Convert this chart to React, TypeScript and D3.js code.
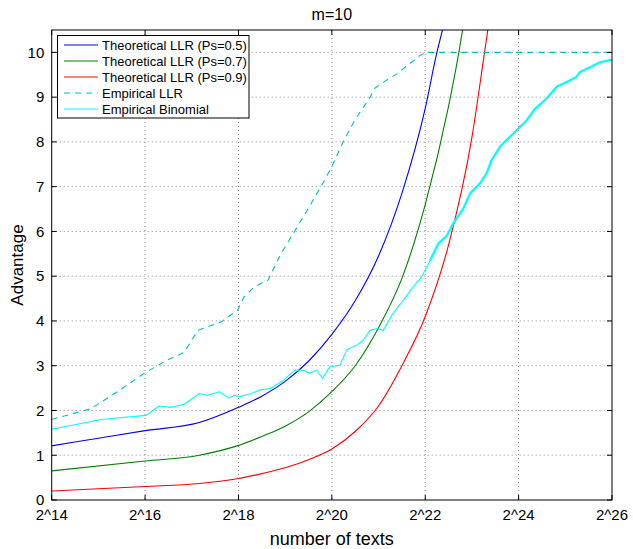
import React from "react";
import * as d3 from "d3";

// x values are log2(number of texts)
const xTicks = [14, 16, 18, 20, 22, 24, 26];
const yTicks = [0, 1, 2, 3, 4, 5, 6, 7, 8, 9, 10];

const llr05: [number, number][] = [
  [14, 1.21], [15, 1.38], [16, 1.55], [17.16, 1.73], [18, 2.07], [18.5, 2.32],
  [19, 2.65], [19.5, 3.1], [20, 3.7], [20.5, 4.45], [21, 5.45], [21.5, 6.85],
  [22, 8.75], [22.25, 10.0], [22.37, 10.5],
];
const llr07: [number, number][] = [
  [14, 0.65], [16, 0.87], [17.16, 1.0], [18, 1.22], [18.5, 1.42], [19, 1.65],
  [19.5, 1.97], [20, 2.42], [20.5, 3.0], [21, 3.85], [21.5, 4.95], [22, 6.6],
  [22.5, 8.8], [22.72, 10.0], [22.8, 10.5],
];
const llr09: [number, number][] = [
  [14, 0.2], [16, 0.3], [17.16, 0.37], [18, 0.48], [18.5, 0.59], [19, 0.72],
  [19.5, 0.9], [20, 1.14], [20.5, 1.53], [21, 2.1], [21.5, 3.0], [22, 4.1],
  [22.5, 5.7], [23, 8.1], [23.27, 10.0], [23.34, 10.5],
];
const empLLR: [number, number][] = [
  [14, 1.8], [14.84, 2.04], [15.41, 2.42], [15.98, 2.83], [16.48, 3.13], [16.84, 3.3],
  [17.13, 3.79], [17.34, 3.87], [17.63, 3.98], [17.98, 4.24], [18.12, 4.54],
  [18.34, 4.76], [18.63, 4.91], [18.91, 5.5], [19.2, 6.0], [19.46, 6.45], [19.82, 7.1],
  [20.0, 7.45], [20.24, 8.0], [20.5, 8.5], [20.82, 9.0], [20.92, 9.2], [21.1, 9.33],
  [21.39, 9.52], [21.67, 9.75], [21.89, 9.93], [22.0, 10.0], [26, 10.0],
];
const empBinomial: [number, number][] = [
  [14, 1.58], [15.06, 1.8], [16.02, 1.89], [16.3, 2.1], [16.55, 2.07], [16.84, 2.14],
  [17.16, 2.38], [17.34, 2.34], [17.59, 2.42], [17.8, 2.27], [17.91, 2.34], [18.02, 2.31],
  [18.27, 2.38], [18.46, 2.46], [18.68, 2.49], [18.92, 2.64], [19.21, 2.9], [19.39, 2.9],
  [19.53, 2.83], [19.67, 2.9], [19.8, 2.72], [19.96, 2.98], [20.17, 3.01], [20.32, 3.35],
  [20.53, 3.46], [20.67, 3.57], [20.82, 3.79], [20.96, 3.83], [21.1, 3.79], [21.31, 4.17],
  [21.53, 4.46], [21.74, 4.76], [21.92, 4.98], [22.1, 5.34], [22.28, 5.73], [22.46, 5.9],
  [22.6, 6.18], [22.81, 6.5], [22.96, 6.85], [23.17, 7.07], [23.31, 7.29], [23.42, 7.59],
  [23.6, 7.89], [23.74, 8.04], [23.96, 8.26], [24.17, 8.48], [24.35, 8.74], [24.6, 8.97],
  [24.81, 9.23], [25.03, 9.34], [25.24, 9.45], [25.31, 9.56], [25.53, 9.67], [25.74, 9.78],
  [26.0, 9.84],
];

const series = [
  { name: "Theoretical LLR (Ps=0.5)", data: llr05, color: "#0000ff", dash: "", smooth: true },
  { name: "Theoretical LLR (Ps=0.7)", data: llr07, color: "#008000", dash: "", smooth: true },
  { name: "Theoretical LLR (Ps=0.9)", data: llr09, color: "#ff0000", dash: "", smooth: true },
  { name: "Empirical LLR", data: empLLR, color: "#00bfbf", dash: "6,5", smooth: false },
  { name: "Empirical Binomial", data: empBinomial, color: "#00ffff", dash: "", smooth: false },
];

const W = 633;
const H = 549;
const m = { left: 51.7, right: 612, top: 30, bottom: 500 };
const font = "'Liberation Sans', Arial, Helvetica, sans-serif";

export default function App() {
  const x = d3.scaleLinear().domain([14, 26]).range([m.left, m.right]);
  const y = d3.scaleLinear().domain([0, 10.5]).range([m.bottom, m.top]);
  const smooth = d3
    .line<[number, number]>()
    .x((d) => x(d[0]))
    .y((d) => y(d[1]))
    .curve(d3.curveMonotoneX);
  const rough = d3
    .line<[number, number]>()
    .x((d) => x(d[0]))
    .y((d) => y(d[1]));
  const tl = 5;

  // noisy tail of the binomial curve reads thicker in the original
  const binTail = empBinomial.filter((d) => d[0] >= 22.1);

  return (
    <svg
      width={W}
      height={H}
      style={{ position: "absolute", left: 0, top: 0, background: "#fff" }}
      fontFamily={font}
    >
      <defs>
        <clipPath id="plot">
          <rect x={m.left} y={m.top} width={m.right - m.left} height={m.bottom - m.top} />
        </clipPath>
      </defs>
      {/* grid */}
      {xTicks.slice(1, -1).map((t) => (
        <line key={"gx" + t} x1={x(t)} x2={x(t)} y1={m.top} y2={m.bottom}
          stroke="#888" strokeWidth={1} strokeDasharray="1,3" />
      ))}
      {yTicks.slice(1).map((t) => (
        <line key={"gy" + t} x1={m.left} x2={m.right} y1={y(t)} y2={y(t)}
          stroke="#888" strokeWidth={1} strokeDasharray="1,3" />
      ))}
      {/* series */}
      <g clipPath="url(#plot)">
        {series.map((s) => (
          <path key={s.name} d={(s.smooth ? smooth : rough)(s.data) || ""} fill="none"
            stroke={s.color} strokeWidth={1.1} strokeLinejoin="round"
            strokeDasharray={s.dash || undefined} />
        ))}
        <path d={rough(binTail) || ""} fill="none" stroke="#00ffff" strokeWidth={2.2}
          strokeLinejoin="round" />
      </g>
      {/* ticks */}
      {xTicks.map((t) => (
        <g key={"tx" + t}>
          <line x1={x(t)} x2={x(t)} y1={m.bottom} y2={m.bottom - tl} stroke="#000" />
          <line x1={x(t)} x2={x(t)} y1={m.top} y2={m.top + tl} stroke="#000" />
          <text x={x(t)} y={520} textAnchor="middle" fontSize={15}>{`2^${t}`}</text>
        </g>
      ))}
      {yTicks.map((t) => (
        <g key={"ty" + t}>
          <line x1={m.left} x2={m.left + tl} y1={y(t)} y2={y(t)} stroke="#000" />
          <line x1={m.right} x2={m.right - tl} y1={y(t)} y2={y(t)} stroke="#000" />
          <text x={44.3} y={y(t) + 5.3} textAnchor="end" fontSize={15}>{t}</text>
        </g>
      ))}
      <rect x={m.left} y={m.top} width={m.right - m.left} height={m.bottom - m.top}
        fill="none" stroke="#000" strokeWidth={1} />
      {/* legend */}
      <g>
        <rect x={57.5} y={35.5} width={191.5} height={82.5} fill="#fff" stroke="#000" strokeWidth={1} />
        {series.map((s, i) => (
          <g key={"lg" + s.name} transform={`translate(0,${45 + i * 16})`}>
            <line x1={64} x2={98} y1={0} y2={0} stroke={s.color} strokeWidth={1.1}
              strokeDasharray={s.dash || undefined} />
            <text x={102} y={4.6} fontSize={13}>{s.name}</text>
          </g>
        ))}
      </g>
      {/* labels */}
      <text x={(m.left + m.right) / 2} y={20} textAnchor="middle" fontSize={16}>m=10</text>
      <text x={(m.left + m.right) / 2} y={545} textAnchor="middle" fontSize={18}>number of texts</text>
      <text transform={`translate(23,${(m.top + m.bottom) / 2}) rotate(-90)`} textAnchor="middle" fontSize={17}>Advantage</text>
    </svg>
  );
}
